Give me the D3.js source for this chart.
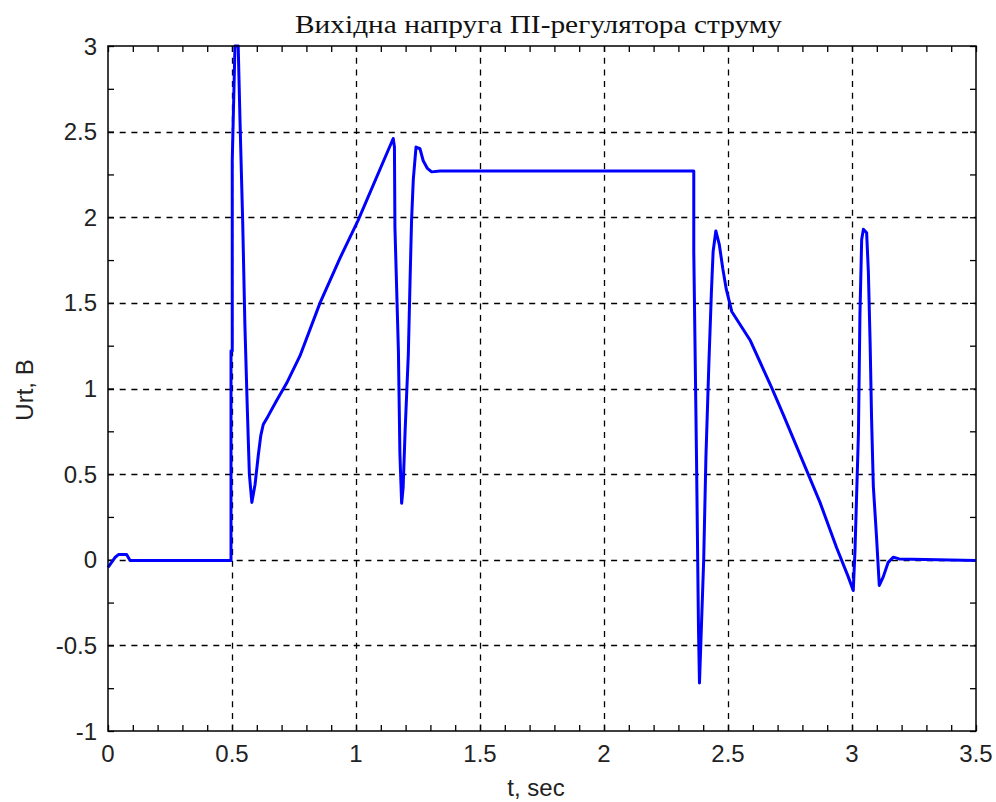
<!DOCTYPE html>
<html><head><meta charset="utf-8">
<script src="https://cdn.jsdelivr.net/npm/d3@7"></script>
<style>body{margin:0;background:#fff}</style>
</head><body>
<svg id="c" width="996" height="802"></svg>
<script>
const title = "Вихідна напруга ПІ-регулятора струму";
const xLabel = "t, sec";
const yLabel = "Urt, В";
const xTicks = [0, 0.5, 1, 1.5, 2, 2.5, 3, 3.5];
const xTickLabels = ["0", "0.5", "1", "1.5", "2", "2.5", "3", "3.5"];
const yTicks = [-1, -0.5, 0, 0.5, 1, 1.5, 2, 2.5, 3];
const yTickLabels = ["-1", "-0.5", "0", "0.5", "1", "1.5", "2", "2.5", "3"];
const tValues = [0, 0.028, 0.042, 0.075, 0.089, 0.496, 0.496, 0.501, 0.501, 0.512, 0.525, 0.532, 0.543, 0.552, 0.562, 0.57, 0.58, 0.593, 0.606, 0.616, 0.626, 0.646, 0.68, 0.72, 0.774, 0.855, 0.935, 1.008, 1.15, 1.155, 1.157, 1.171, 1.177, 1.184, 1.19, 1.198, 1.211, 1.218, 1.224, 1.231, 1.242, 1.258, 1.271, 1.288, 1.305, 1.339, 2.362, 2.362, 2.373, 2.381, 2.385, 2.402, 2.411, 2.423, 2.433, 2.44, 2.451, 2.465, 2.479, 2.493, 2.515, 2.59, 2.676, 2.725, 2.871, 2.938, 2.985, 3.005, 3.012, 3.026, 3.032, 3.039, 3.046, 3.059, 3.066, 3.073, 3.079, 3.086, 3.099, 3.11, 3.126, 3.146, 3.167, 3.19, 3.5];
const uValues = [-0.045, 0.013, 0.03, 0.03, -0.005, -0.005, 1.22, 1.22, 2.33, 3.0, 3.0, 2.58, 1.98, 1.37, 0.87, 0.50, 0.335, 0.44, 0.61, 0.725, 0.79, 0.84, 0.93, 1.03, 1.19, 1.50, 1.76, 1.98, 2.46, 2.41, 1.94, 1.22, 0.62, 0.33, 0.42, 0.75, 1.20, 1.63, 1.98, 2.22, 2.41, 2.40, 2.33, 2.285, 2.265, 2.27, 2.27, 1.80, 0.60, -0.40, -0.72, 0.0, 0.60, 1.15, 1.56, 1.80, 1.92, 1.84, 1.70, 1.58, 1.45, 1.28, 1.005, 0.84, 0.335, 0.07, -0.10, -0.18, 0.05, 0.74, 1.43, 1.87, 1.93, 1.91, 1.68, 1.27, 0.82, 0.43, 0.13, -0.15, -0.10, -0.015, 0.015, 0.005, -0.005];

const svg = d3.select("#c");
const L = 108, R = 976, T = 46, B = 731;
const x = d3.scaleLinear().domain([0, 3.5]).range([L, R]);
const y = d3.scaleLinear().domain([-1, 3]).range([B, T]);

// grid
const g = svg.append("g");
g.selectAll(".gx").data(xTicks.slice(1, -1)).join("line")
  .attr("x1", d => Math.round(x(d)) + 0.5).attr("x2", d => Math.round(x(d)) + 0.5)
  .attr("y1", T).attr("y2", B)
  .attr("stroke", "#000").attr("stroke-width", 1.3).attr("stroke-dasharray", "6,5.7");
g.selectAll(".gy").data(yTicks.slice(1, -1)).join("line")
  .attr("y1", d => Math.round(y(d)) + 0.5).attr("y2", d => Math.round(y(d)) + 0.5)
  .attr("x1", L).attr("x2", R)
  .attr("stroke", "#000").attr("stroke-width", 1.3).attr("stroke-dasharray", "6,5.7");

// axes
const xMinor = d3.range(0, 3.5001, 0.1);
const yMinor = d3.range(-1, 3.0001, 0.25);
const axB = d3.axisBottom(x).tickValues(xMinor).tickSize(-6).tickFormat("");
const axT = d3.axisTop(x).tickValues(xMinor).tickSize(-6).tickFormat("");
const axL = d3.axisLeft(y).tickValues(yMinor).tickSize(-6).tickFormat("");
const axR = d3.axisRight(y).tickValues(yMinor).tickSize(-6).tickFormat("");
const style = s => { s.select(".domain").remove(); s.selectAll("line").attr("stroke", "#000").attr("stroke-width", 1.3); };
svg.append("g").attr("transform", `translate(0,${B})`).call(axB).call(style);
svg.append("g").attr("transform", `translate(0,${T})`).call(axT).call(style);
svg.append("g").attr("transform", `translate(${L},0)`).call(axL).call(style);
svg.append("g").attr("transform", `translate(${R},0)`).call(axR).call(style);

// curve
const line = d3.line().x((d, i) => x(tValues[i])).y(d => y(d));
svg.append("path").datum(uValues).attr("d", line)
  .attr("fill", "none").attr("stroke", "#0000ff").attr("stroke-width", 3)
  .attr("stroke-linejoin", "round");

// frame
svg.append("rect").attr("x", L).attr("y", T).attr("width", R - L).attr("height", B - T)
  .attr("fill", "none").attr("stroke", "#000").attr("stroke-width", 1.5);

// tick labels
const font = "'Liberation Sans', Arial, sans-serif";
svg.append("g").selectAll("text").data(xTicks).join("text")
  .attr("x", d => x(d)).attr("y", B + 31).attr("text-anchor", "middle")
  .attr("font-family", font).attr("font-size", 24).attr("fill", "#222").text((d, i) => xTickLabels[i]);
svg.append("g").selectAll("text").data(yTicks).join("text")
  .attr("x", L - 11).attr("y", d => y(d) + 8.5).attr("text-anchor", "end")
  .attr("font-family", font).attr("font-size", 24).attr("fill", "#222").text((d, i) => yTickLabels[i]);

// labels
svg.append("text").attr("x", 536).attr("y", 796).attr("text-anchor", "middle")
  .attr("font-family", font).attr("font-size", 24).attr("fill", "#222").text(xLabel);
svg.append("text").attr("transform", `translate(33,390) rotate(-90)`).attr("text-anchor", "middle")
  .attr("font-family", font).attr("font-size", 24).attr("fill", "#222").text(yLabel);
svg.append("text").attr("x", 295).attr("y", 33).attr("text-anchor", "start")
  .attr("textLength", 487).attr("lengthAdjust", "spacingAndGlyphs")
  .attr("font-family", "'Liberation Serif', 'Times New Roman', serif").attr("font-size", 25).attr("fill", "#111").text(title);
</script>
</body></html>
